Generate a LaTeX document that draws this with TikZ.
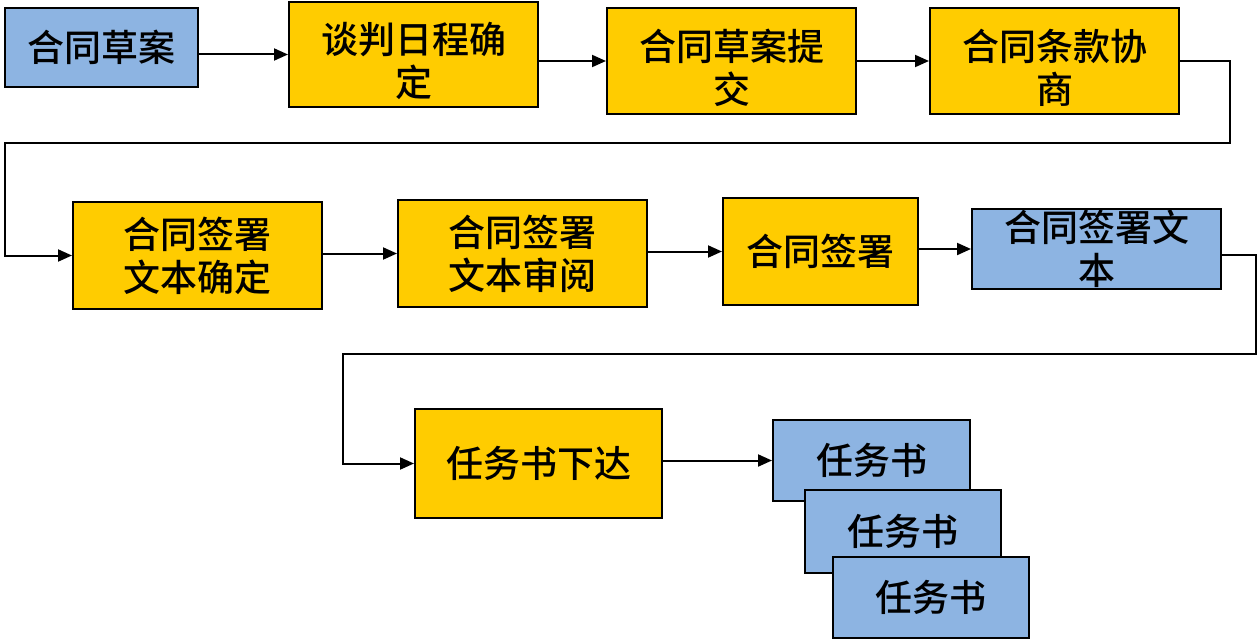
\documentclass[tikz,border=0pt]{standalone}
\usepackage{fontspec}
\newfontfamily\cjk{Noto Sans CJK SC Medium}
\usetikzlibrary{arrows.meta}
\definecolor{boxblue}{RGB}{141,180,226}
\definecolor{boxyellow}{RGB}{255,204,0}
\newcommand\lowerstrut{\rule{0pt}{45pt}}
\tikzset{
  box/.style={draw=black, line width=2pt, inner sep=0pt, align=center,
    font=\cjk\fontsize{37}{43}\selectfont},
  bluebox/.style={box, fill=boxblue},
  yelbox/.style={box, fill=boxyellow},
  arr/.style={line width=2pt, -{Triangle[length=14pt,width=12pt]}},
  ln/.style={line width=2pt}
}
\begin{document}
\begin{tikzpicture}[x=1pt,y=-1pt]
\useasboundingbox (0,0) rectangle (1258,642);
% row 1
\node[bluebox, minimum width=193, minimum height=79] (a1) at (101.5,47.5) {合同草案};
\node[yelbox, minimum width=249, minimum height=105] (a2) at (413.5,54.5) {\lowerstrut 谈判日程确\\定};
\node[yelbox, minimum width=249, minimum height=106] (a3) at (731.5,61) {\lowerstrut 合同草案提\\交};
\node[yelbox, minimum width=249, minimum height=106] (a4) at (1054.5,61) {\lowerstrut 合同条款协\\商};
% row 2
\node[yelbox, minimum width=249, minimum height=107] (b1) at (197.5,255.5) {合同签署\\文本确定};
\node[yelbox, minimum width=249, minimum height=107] (b2) at (522.5,253.5) {合同签署\\文本审阅};
\node[yelbox, minimum width=195, minimum height=107] (b3) at (820.5,251.5) {合同签署};
\node[bluebox, minimum width=249, minimum height=80] (b4) at (1096.5,249) {合同签署文\\本};
% row 3
\node[yelbox, minimum width=247, minimum height=109] (c1) at (538.5,463.5) {任务书下达};
\node[bluebox, minimum width=197, minimum height=81] (d1) at (871.5,460.5) {任务书};
\node[bluebox, minimum width=196, minimum height=83] (d2) at (903,531.5) {任务书};
\node[bluebox, minimum width=196, minimum height=81] (d3) at (931,597.5) {任务书};
% coordinates for bends
\coordinate (p1) at (1230,61);
\coordinate (p2) at (1230,143);
\coordinate (p3) at (5,143);
\coordinate (p4) at (5,255.5);
\coordinate (q0) at (1221,255);
\coordinate (q1) at (1256,255);
\coordinate (q2) at (1256,354);
\coordinate (q3) at (343,354);
\coordinate (q4) at (343,463.5);
% connectors
\draw[arr] (a1.east |- a2.west) -- (a2.west);
\draw[arr] (a2.east |- a3.west) -- (a3.west);
\draw[arr] (a3.east) -- (a4.west);
\draw[arr] (a4.east) -- (p1) -- (p2) -- (p3) -- (p4) -- (b1.west);
\draw[arr] (b1.east |- b2.west) -- (b2.west);
\draw[arr] (b2.east |- b3.west) -- (b3.west);
\draw[arr] (b3.east |- b4.west) -- (b4.west);
\draw[arr] (q0) -- (q1) -- (q2) -- (q3) -- (q4) -- (c1.west);
\draw[arr] (c1.east |- d1.west) -- (d1.west);
\end{tikzpicture}
\end{document}
